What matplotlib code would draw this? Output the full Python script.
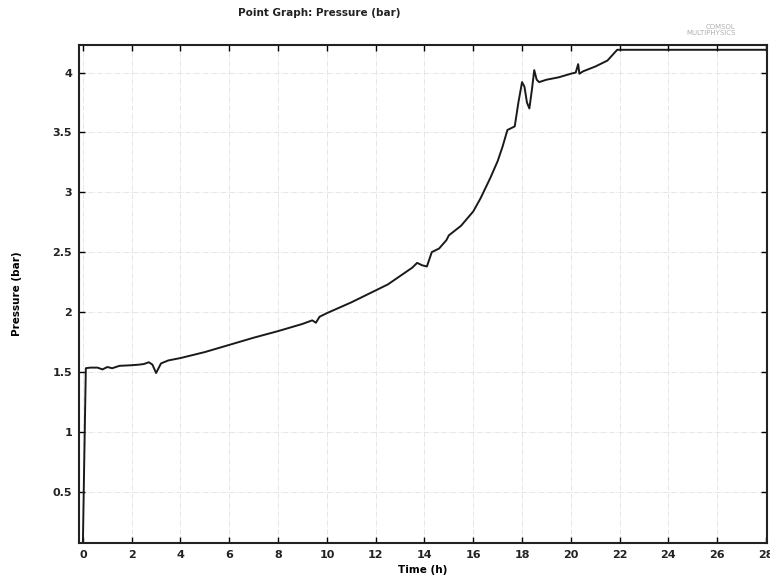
import matplotlib
matplotlib.use('Agg')
import matplotlib.pyplot as plt
import numpy as np

# Pressure curve
time_h = [0.0, 0.05, 0.12, 0.3, 0.6, 0.8, 1.0, 1.2, 1.5, 2.0, 2.3, 2.5, 2.7,
          2.85, 3.0, 3.2, 3.5, 4.0, 5.0, 6.0, 7.0, 8.0, 8.5, 9.0, 9.4, 9.55,
          9.7, 10.0, 11.0, 12.0, 12.5, 13.0, 13.5, 13.7, 13.9, 14.1, 14.3,
          14.6, 14.9, 15.0, 15.5, 16.0, 16.3, 16.7, 17.0, 17.2, 17.4, 17.5,
          17.7, 17.85, 18.0, 18.1, 18.2, 18.3, 18.4, 18.5, 18.6, 18.7, 19.0,
          19.5, 20.0, 20.2, 20.3, 20.35, 20.5, 21.0, 21.5, 21.9, 22.1, 28.0]
pressure_bar = [0.07, 0.7, 1.53, 1.535, 1.535, 1.52, 1.54, 1.53, 1.55, 1.555,
                1.56, 1.565, 1.58, 1.56, 1.49, 1.57, 1.595, 1.615, 1.665, 1.725,
                1.785, 1.84, 1.87, 1.9, 1.93, 1.91, 1.96, 1.99, 2.08, 2.18,
                2.23, 2.3, 2.37, 2.41, 2.39, 2.38, 2.5, 2.53, 2.6, 2.64, 2.72,
                2.84, 2.95, 3.12, 3.26, 3.38, 3.52, 3.53, 3.55, 3.75, 3.92,
                3.88, 3.75, 3.7, 3.85, 4.02, 3.94, 3.92, 3.94, 3.96, 3.99,
                4.0, 4.07, 3.99, 4.01, 4.05, 4.1, 4.19, 4.19, 4.19]

x_ticks = list(range(0, 29, 2))
y_ticks = [0.5, 1, 1.5, 2, 2.5, 3, 3.5, 4]
y_tick_labels = ['0.5', '1', '1.5', '2', '2.5', '3', '3.5', '4']

fig = plt.figure(figsize=(7.7, 5.8), dpi=100)
ax = fig.add_axes([0.1026, 0.0638, 0.8935, 0.8586])

ax.plot(time_h, pressure_bar, color='#1a1a1a', lw=1.4)

ax.set_xlim(-0.16, 28.04)
ax.set_ylim(0.07, 4.23)
ax.set_xticks(x_ticks)
ax.set_yticks(y_ticks)
ax.set_yticklabels(y_tick_labels)
ax.tick_params(direction='in', top=True, right=True, length=4, width=1,
               labelsize=8, pad=5)
for lbl in ax.get_xticklabels() + ax.get_yticklabels():
    lbl.set_fontweight('bold')
    lbl.set_color('#222222')

ax.grid(True, color='#e2e2e2', linestyle='-.', lw=0.6)
for sp in ax.spines.values():
    sp.set_linewidth(1.5)
    sp.set_color('#222222')

ax.set_xlabel('Time (h)', fontsize=7.5, fontweight='bold', labelpad=4)
ax.set_ylabel('Pressure (bar)', fontsize=7.5, fontweight='bold', labelpad=22)
fig.text(0.415, 0.977, 'Point Graph: Pressure (bar)', fontsize=7.5,
         fontweight='bold', ha='center', va='center', color='#222222')
fig.text(0.955, 0.948, 'COMSOL\nMULTIPHYSICS', fontsize=5, ha='right',
         va='center', color='#b0b0b0', linespacing=1.0)

plt.savefig('out.png', dpi=100)
plt.close()
